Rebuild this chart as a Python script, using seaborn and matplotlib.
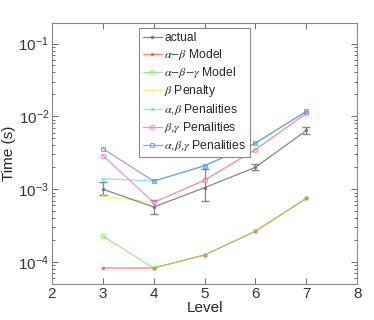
import numpy as np
import pandas as pd
import matplotlib
matplotlib.use('Agg')
import matplotlib.pyplot as plt
from matplotlib.lines import Line2D
import seaborn as sns

levels = [3, 4, 5, 6, 7]
actual = [1.0e-3, 5.7e-4, 1.05e-3, 2.0e-3, 6.4e-3]
actual_lo = [8.3e-4, 4.5e-4, 6.9e-4, 1.85e-3, 5.7e-3]
actual_hi = [1.25e-3, 7.2e-4, 1.9e-3, 2.2e-3, 7.1e-3]
ab_model = [8.3e-5, 8.3e-5, 1.25e-4, 2.65e-4, 7.5e-4]
abg_model = [2.27e-4, 8.3e-5, 1.25e-4, 2.65e-4, 7.5e-4]
b_pen = [8.0e-4, 6.6e-4, 1.33e-3, 3.5e-3, 1.1e-2]
ab_pen = [1.4e-3, 1.29e-3, 2.1e-3, 4.3e-3, 1.17e-2]
bg_pen = [2.9e-3, 6.6e-4, 1.33e-3, 3.5e-3, 1.1e-2]
abg_pen = [3.6e-3, 1.29e-3, 2.1e-3, 4.3e-3, 1.17e-2]

sns.set_style('white')
plt.rcParams['font.family'] = ['Liberation Sans', 'DejaVu Sans']
plt.rcParams['mathtext.fontset'] = 'stix'

fig = plt.figure(figsize=(3.74, 3.2), dpi=100)
ax = fig.add_axes([0.139, 0.1125, 0.816, 0.815])

series = [
    (r'$\alpha$$-$$\beta$ Model', ab_model, '#ff5050', 's', 2, True),
    (r'$\alpha$$-$$\beta$$-$$\gamma$ Model', abg_model, '#88dd66', 'o', 3.2, False),
    (r'$\beta$ Penalty', b_pen, '#ffee44', '.', 2.5, True),
    (r'$\alpha$,$\beta$ Penalities', ab_pen, '#66dde8', 's', 1.8, True),
    (r'$\beta$,$\gamma$ Penalities', bg_pen, '#e070d0', 'o', 3.2, False),
    (r'$\alpha$,$\beta$,$\gamma$ Penalities', abg_pen, '#6688dd', 's', 3.2, False),
]

# actual with error bars
ax.errorbar(levels, actual,
            yerr=[np.array(actual) - np.array(actual_lo), np.array(actual_hi) - np.array(actual)],
            color='#777777', lw=0.9, marker='.', ms=3, capsize=3, elinewidth=0.9, alpha=0.9)

handles = [Line2D([], [], color='#777777', lw=0.9, marker='.', ms=3, alpha=0.9)]
labels = ['actual']
for name, vals, col, mk, ms, filled in series:
    df = pd.DataFrame({'Level': levels, 'Time': vals})
    sns.lineplot(data=df, x='Level', y='Time', ax=ax, color=col, lw=0.9, alpha=0.75,
                 marker=mk, markersize=ms,
                 markerfacecolor=col if filled else 'none', markeredgecolor=col,
                 markeredgewidth=0.8)
    handles.append(Line2D([], [], color=col, lw=0.9, alpha=0.75, marker=mk, ms=ms,
                          markerfacecolor=col if filled else 'none', markeredgecolor=col,
                          markeredgewidth=0.8))
    labels.append(name)

ax.set_yscale('log')
ax.set_xlim(2, 8)
ax.set_ylim(5e-5, 0.19)
ax.set_xticks([2, 3, 4, 5, 6, 7, 8])
ax.set_yticks([1e-4, 1e-3, 1e-2, 1e-1])
ax.tick_params(axis='both', which='both', direction='in', labelsize=11, colors='#333333',
               top=True, right=True, bottom=True, left=True, pad=2)
ax.tick_params(which='major', length=4, width=0.5)
ax.tick_params(which='minor', length=2, width=0.5)
for s in ax.spines.values():
    s.set_color('#888888')
    s.set_linewidth(0.8)
ax.set_xlabel('Level', fontsize=11, labelpad=0)
ax.set_ylabel('Time (s)', fontsize=11, labelpad=2)

leg = ax.legend(handles, labels,
                loc='upper left', bbox_to_anchor=(0.285, 0.98), fontsize=8.7,
                handlelength=1.6, handletextpad=0.2, borderpad=0.3,
                labelspacing=0.25, borderaxespad=0, fancybox=False, framealpha=1)
leg.get_frame().set_edgecolor('#888888')
leg.get_frame().set_linewidth(0.8)

fig.savefig('out.png', dpi=100)
